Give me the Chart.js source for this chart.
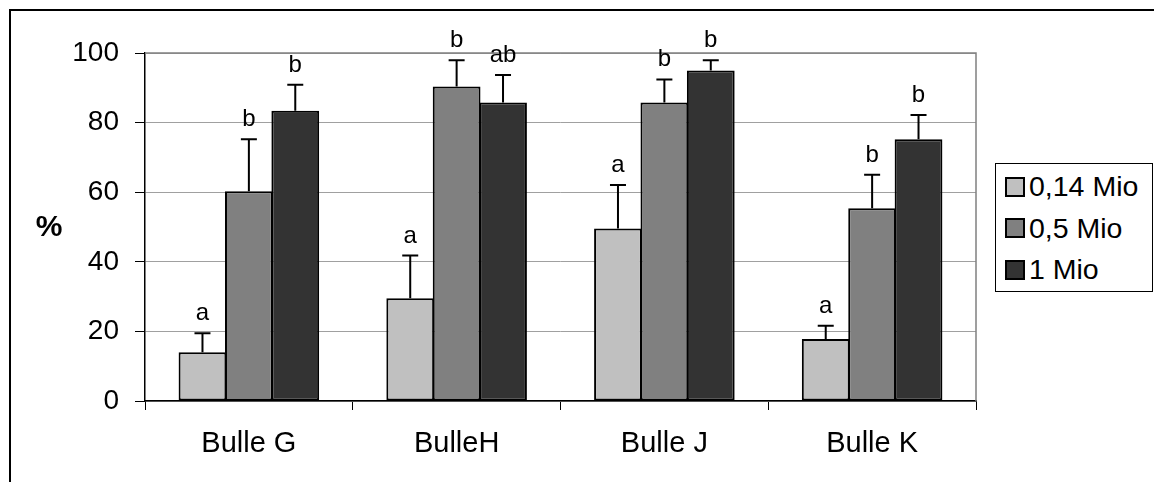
<!DOCTYPE html>
<html>
<head>
<meta charset="utf-8">
<script src="https://cdn.jsdelivr.net/npm/chart.js@4.4.1/dist/chart.umd.min.js"></script>
<style>
  html, body { margin: 0; padding: 0; background: #fff; overflow: hidden; }
  #wrap { position: relative; width: 1154px; height: 482px; overflow: hidden; }
  #frame { position: absolute; left: 9px; top: 9px; width: 1300px; height: 700px; border: 2px solid #000; box-sizing: border-box; }
  #chart { position: absolute; left: 0; top: 0; }
  #legend { position: absolute; left: 995px; top: 163px; width: 158px; height: 129px; border: 1px solid #000; box-sizing: border-box; padding-top: 2px; background: #fff; }
  .row { height: 41.5px; display: flex; align-items: center; font-family: "Liberation Sans", Arial, sans-serif; font-size: 28.5px; color: #000; }
  .sw { width: 16px; height: 16px; border: 2px solid #000; margin-left: 9px; margin-right: 4px; }
</style>
</head>
<body>
<div id="wrap">
  <div id="frame"></div>
  <canvas id="chart" width="1154" height="482"></canvas>
  <div id="legend"></div>
</div>
<script>
// categories and series
const categories = ['Bulle G', 'BulleH', 'Bulle J', 'Bulle K'];
const seriesNames = ['0,14 Mio', '0,5 Mio', '1 Mio'];
const seriesColors = ['#c0c0c0', '#808080', '#333333'];

// mean values (%)
const low = [14.0, 29.5, 49.6, 17.8];
const mid = [60.3, 90.4, 85.8, 55.4];
const high = [83.4, 85.8, 95.0, 75.2];

// upper error (%)
const lowErr = [5.5, 12.3, 12.5, 3.8];
const midErr = [14.9, 7.5, 6.6, 9.6];
const highErr = [7.5, 7.9, 2.9, 7.0];

// significance letters
const lowSig = ['a', 'a', 'a', 'a'];
const midSig = ['b', 'b', 'b', 'b'];
const highSig = ['b', 'ab', 'b', 'b'];

const yMin = 0;
const yMax = 100;
const yStep = 20;

const FONT = '"Liberation Sans", Arial, sans-serif';

const seriesValues = [low, mid, high];
const seriesErrors = [lowErr, midErr, highErr];
const seriesLetters = [lowSig, midSig, highSig];

// legend (html)
var legendEl = document.getElementById('legend');
seriesNames.forEach(function (name, i) {
  var row = document.createElement('div');
  row.className = 'row';
  var sw = document.createElement('span');
  sw.className = 'sw';
  sw.style.background = seriesColors[i];
  var txt = document.createElement('span');
  txt.textContent = name;
  row.appendChild(sw);
  row.appendChild(txt);
  legendEl.appendChild(row);
});

// error bars, letters, plot frame and the '%' label
const decorations = {
  id: 'decorations',
  beforeDatasetsDraw: function (chart) {
    var a = chart.chartArea, ctx = chart.ctx;
    ctx.save();
    ctx.strokeStyle = '#808080';
    ctx.lineWidth = 1.5;
    ctx.beginPath();
    ctx.moveTo(a.left, a.top);
    ctx.lineTo(a.right, a.top);
    ctx.lineTo(a.right, a.bottom);
    ctx.stroke();
    ctx.restore();
  },
  afterDatasetsDraw: function (chart) {
    var ctx = chart.ctx;
    var y = chart.scales.y;
    ctx.save();
    ctx.strokeStyle = '#000';
    ctx.lineWidth = 2;
    ctx.fillStyle = '#000';
    ctx.font = '24px ' + FONT;
    ctx.textAlign = 'center';
    ctx.textBaseline = 'alphabetic';
    chart.data.datasets.forEach(function (ds, di) {
      var meta = chart.getDatasetMeta(di);
      meta.data.forEach(function (bar, i) {
        var top = y.getPixelForValue(ds.data[i] + seriesErrors[di][i]);
        ctx.beginPath();
        ctx.moveTo(bar.x, bar.y);
        ctx.lineTo(bar.x, top);
        ctx.moveTo(bar.x - 8, top);
        ctx.lineTo(bar.x + 8, top);
        ctx.stroke();
        ctx.fillText(seriesLetters[di][i], bar.x, top - 13);
      });
    });
    ctx.font = 'bold 30px ' + FONT;
    ctx.textBaseline = 'middle';
    ctx.fillText('%', 49, 228);
    ctx.restore();
  },
};

new Chart(document.getElementById('chart'), {
  type: 'bar',
  data: {
    labels: categories,
    datasets: seriesNames.map(function (name, i) {
      return {
        label: name,
        data: seriesValues[i],
        backgroundColor: seriesColors[i],
        borderColor: '#000',
        borderWidth: 2,
        borderSkipped: false,
        barPercentage: 1.03,
        categoryPercentage: 0.67,
      };
    }),
  },
  options: {
    responsive: false,
    animation: false,
    layout: { padding: { left: 0, top: 53, right: 178, bottom: 0 } },
    plugins: { legend: { display: false }, tooltip: { enabled: false } },
    scales: {
      x: {
        offset: true,
        grid: { offset: true, drawOnChartArea: false, drawTicks: true, tickLength: 9, color: '#000', tickColor: '#000' },
        border: { color: '#000', width: 1.5 },
        ticks: { color: '#000', font: { family: FONT, size: 29 }, padding: 17 },
        afterFit: function (scale) { scale.height = 81; },
      },
      y: {
        min: yMin,
        max: yMax,
        grid: { color: '#a0a0a0', lineWidth: 1, tickLength: 10, tickColor: '#000' },
        border: { color: '#000', width: 1.5 },
        ticks: { stepSize: yStep, color: '#000', font: { family: FONT, size: 28 }, padding: 16 },
        afterFit: function (scale) { scale.width = 145; },
      },
    },
  },
  plugins: [decorations],
});
</script>
</body>
</html>
